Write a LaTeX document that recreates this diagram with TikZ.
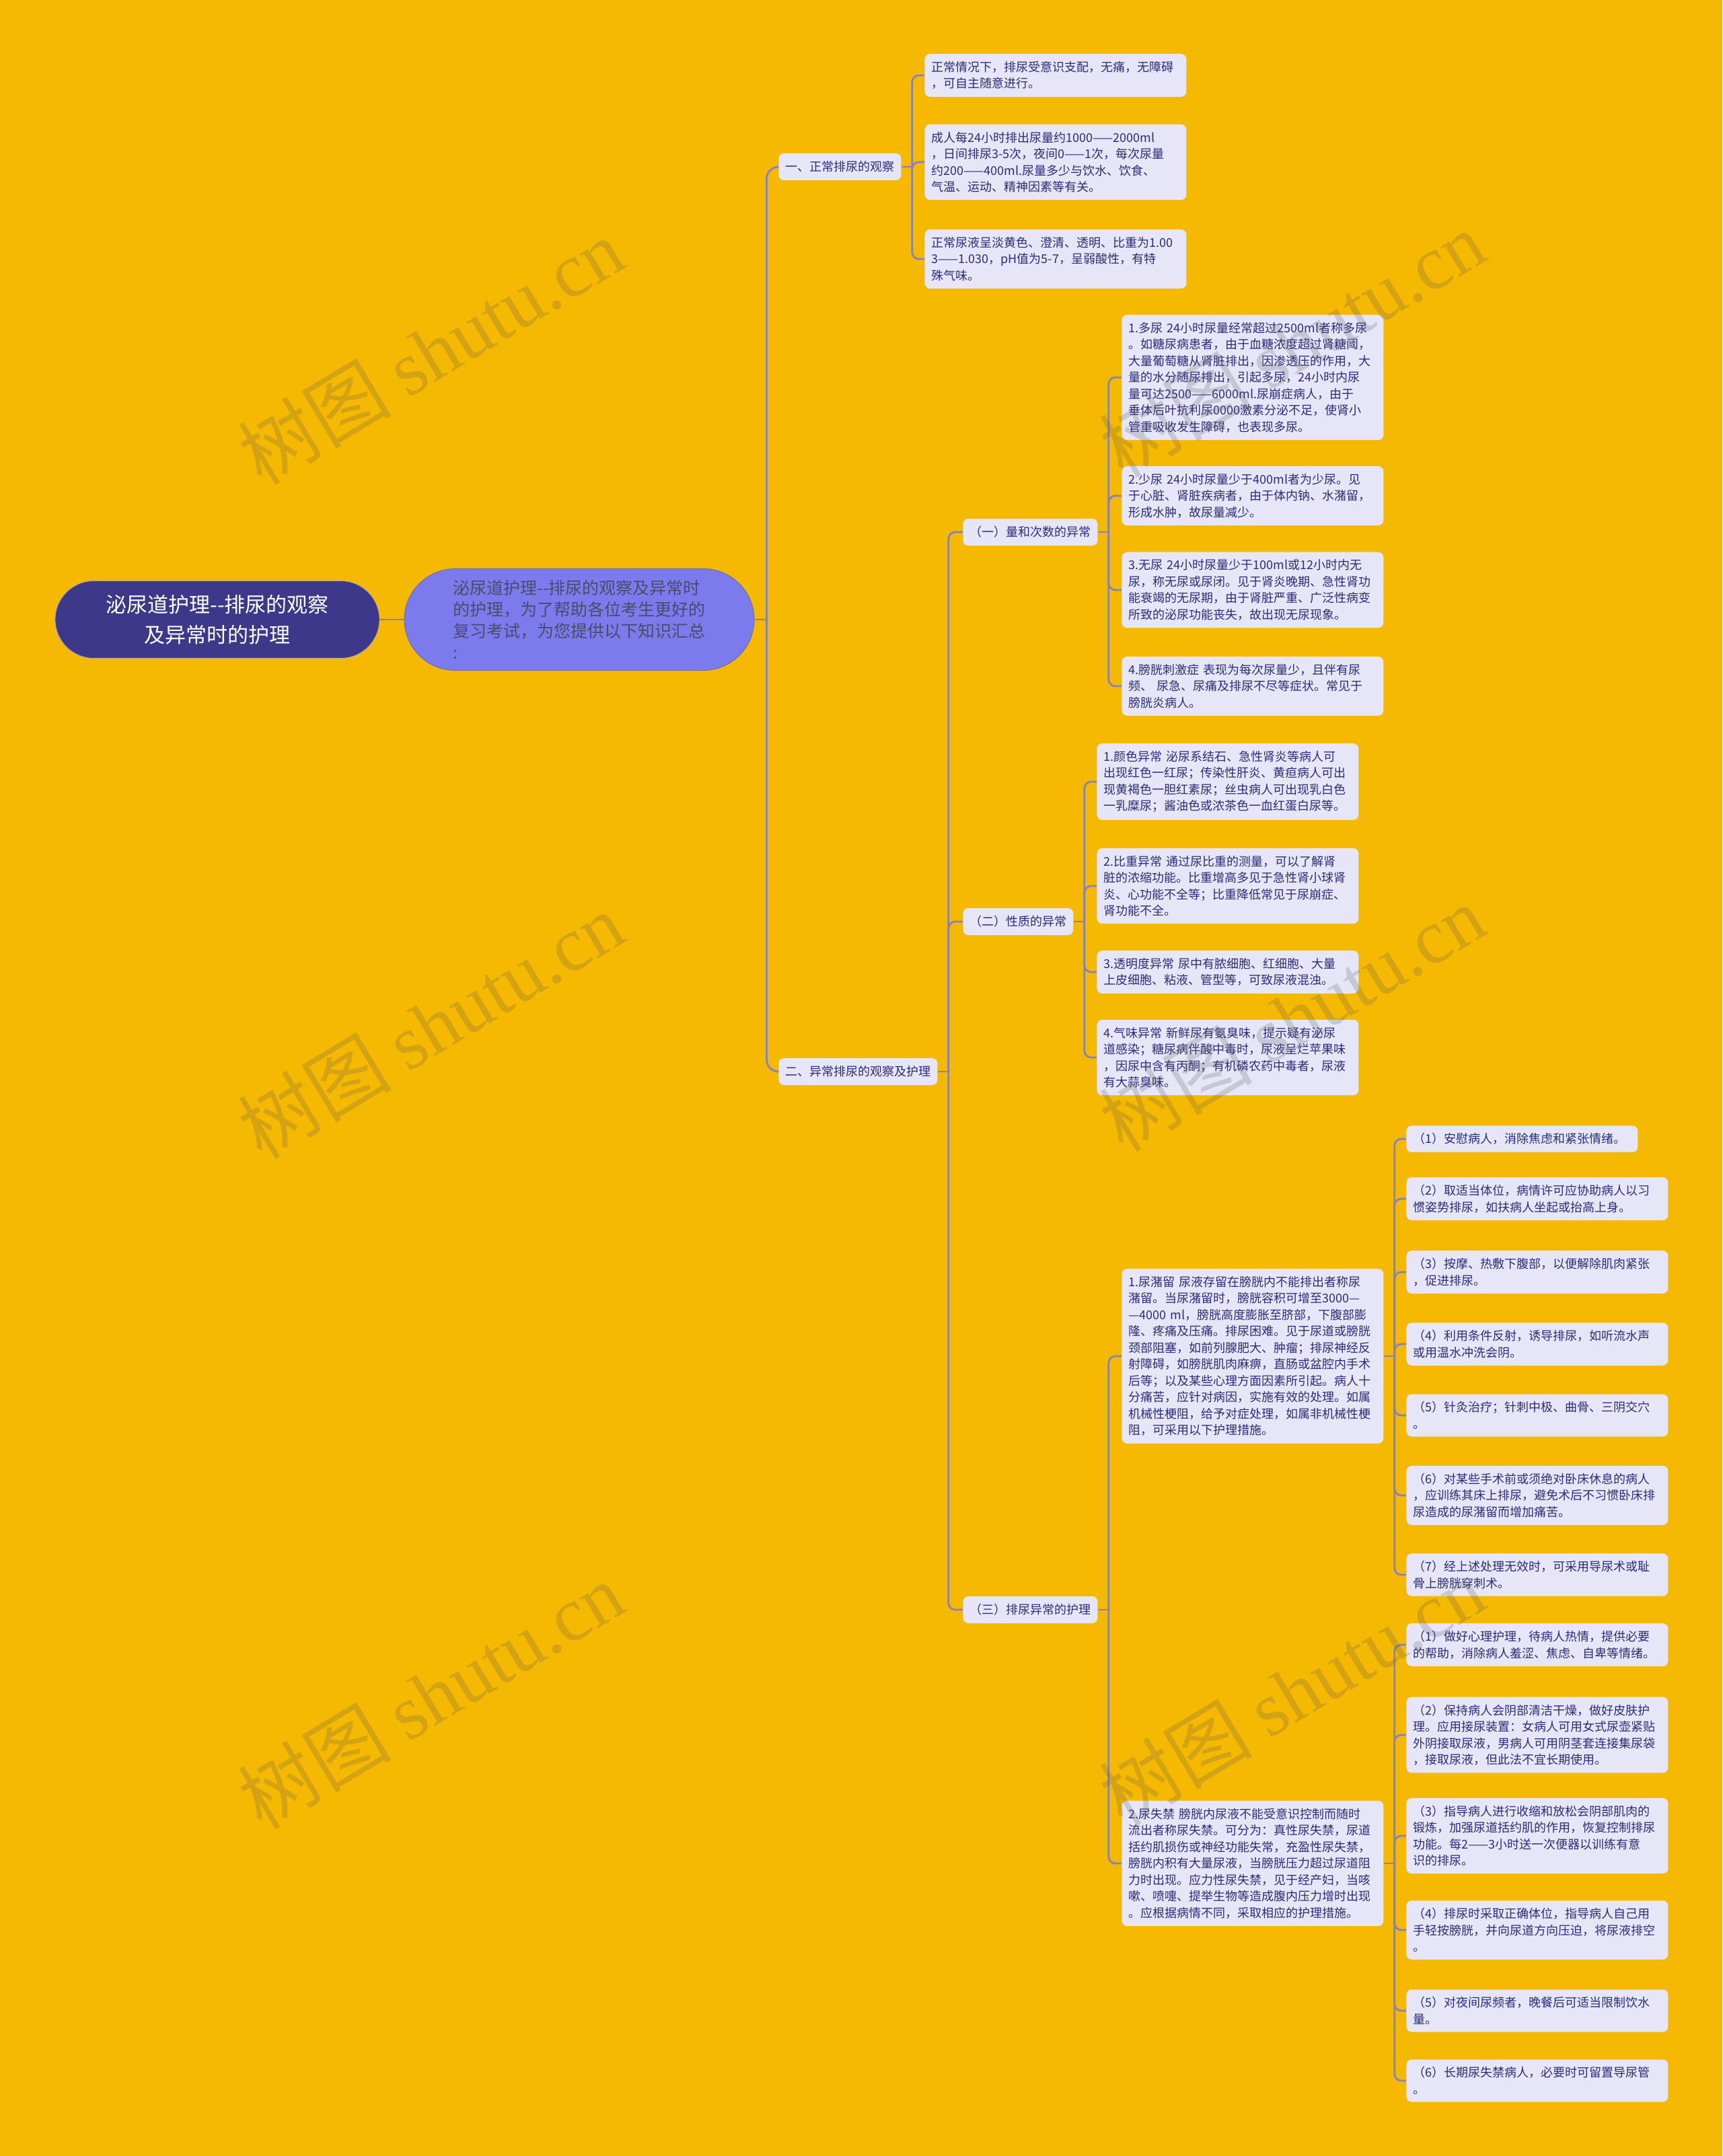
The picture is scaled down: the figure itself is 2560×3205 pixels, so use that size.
\documentclass[tikz,border=0pt]{standalone}
\usepackage{fontspec}
\setmainfont{Noto Sans CJK SC}
\newfontfamily\wmlatin{Liberation Serif}
\definecolor{map-bg}{HTML}{F6B901}
\definecolor{root-fill}{HTML}{3D3889}
\definecolor{hub-fill}{HTML}{7B7BEE}
\definecolor{hub-text}{HTML}{4B4B66}
\definecolor{leaf-fill}{HTML}{E6E6F8}
\definecolor{leaf-text}{HTML}{2B2B7B}
\definecolor{link-line}{HTML}{8383BF}

\begin{document}
\begin{tikzpicture}[x=0.5pt, y=-0.5pt,
  every node/.style={font=\fontsize{9}{12.25}\selectfont, text=leaf-text},
  leaf/.style={fill=leaf-fill, rounded corners=4pt, anchor=west, align=left,
    text width=184.5pt, inner xsep=5pt, inner ysep=5.5pt},
  tag/.style={fill=leaf-fill, rounded corners=4pt, anchor=west, inner xsep=5pt,
    minimum height=20pt},
  link/.style={draw=link-line, line width=1.4pt, rounded corners=5pt},
  wmark/.style={font=\fontsize{57}{57}\selectfont, text=black!66, text opacity=0.22,
    rotate=31}]
  \useasboundingbox (0,0) rectangle (2560,3205);
  \fill[map-bg] (0,0) rectangle (2560,3205);

  % root and summary
  \node[fill=root-fill, draw=leaf-fill!60!root-fill, text=white, rounded corners=28.75pt,
    minimum width=241pt, minimum height=57.5pt, align=center,
    font=\fontsize{15.5}{22.5}\selectfont]
    (root) at (323,921) {泌尿道护理-{}-排尿的观察\\及异常时的护理};
  \node[fill=hub-fill, draw=hub-fill!80!black, text=hub-text, rounded corners=37.75pt,
    minimum width=260pt, minimum height=75.5pt, align=left,
    font=\fontsize{12.5}{16}\selectfont]
    (hub) at (861,921) {泌尿道护理-{}-排尿的观察及异常时\\的护理，为了帮助各位考生更好的\\复习考试，为您提供以下知识汇总\\:};

  % first level
  \node[tag] (normal) at (1157,248) {一、正常排尿的观察};
  \node[tag] (abnormal) at (1157,1593) {二、异常排尿的观察及护理};

  \node[leaf] (n1) at (1374,112) {正常情况下，排尿受意识支配，无痛，无障碍\\，可自主随意进行。};
  \node[leaf] (n2) at (1374,241) {成人每24小时排出尿量约1000——2000ml\\，日间排尿3-5次，夜间0——1次，每次尿量\\约200——400ml.尿量多少与饮水、饮食、\\气温、运动、精神因素等有关。};
  \node[leaf] (n3) at (1374,385) {正常尿液呈淡黄色、澄清、透明、比重为1.00\\3——1.030，pH值为5-7，呈弱酸性，有特\\殊气味。};

  % second level
  \node[tag] (amount) at (1431,791) {（一）量和次数的异常};
  \node[tag] (quality) at (1431,1370) {（二）性质的异常};
  \node[tag] (care) at (1431,2393) {（三）排尿异常的护理};

  \node[leaf] (a1) at (1667,561) {1.多尿 24小时尿量经常超过2500ml者称多尿\\。如糖尿病患者，由于血糖浓度超过肾糖阈，\\大量葡萄糖从肾脏排出，因渗透压的作用，大\\量的水分随尿排出，引起多尿，24小时内尿\\量可达2500——6000ml.尿崩症病人，由于\\垂体后叶抗利尿0000激素分泌不足，使肾小\\管重吸收发生障碍，也表现多尿。};
  \node[leaf] (a2) at (1667,737) {2.少尿 24小时尿量少于400ml者为少尿。见\\于心脏、肾脏疾病者，由于体内钠、水潴留，\\形成水肿，故尿量减少。};
  \node[leaf] (a3) at (1667,877) {3.无尿 24小时尿量少于100ml或12小时内无\\尿，称无尿或尿闭。见于肾炎晚期、急性肾功\\能衰竭的无尿期，由于肾脏严重、广泛性病变\\所致的泌尿功能丧失，故出现无尿现象。};
  \node[leaf] (a4) at (1667,1020) {4.膀胱刺激症 表现为每次尿量少，且伴有尿\\频、 尿急、尿痛及排尿不尽等症状。常见于\\膀胱炎病人。};

  \node[leaf] (q1) at (1630,1162) {1.颜色异常 泌尿系结石、急性肾炎等病人可\\出现红色一红尿；传染性肝炎、黄疸病人可出\\现黄褐色一胆红素尿；丝虫病人可出现乳白色\\一乳糜尿；酱油色或浓茶色一血红蛋白尿等。};
  \node[leaf] (q2) at (1630,1317) {2.比重异常 通过尿比重的测量，可以了解肾\\脏的浓缩功能。比重增高多见于急性肾小球肾\\炎、心功能不全等；比重降低常见于尿崩症、\\肾功能不全。};
  \node[leaf] (q3) at (1630,1445) {3.透明度异常 尿中有脓细胞、红细胞、大量\\上皮细胞、粘液、管型等，可致尿液混浊。};
  \node[leaf] (q4) at (1630,1572) {4.气味异常 新鲜尿有氨臭味，提示疑有泌尿\\道感染；糖尿病伴酸中毒时，尿液呈烂苹果味\\，因尿中含有丙酮；有机磷农药中毒者，尿液\\有大蒜臭味。};

  \node[leaf] (c1) at (1667,2016) {1.尿潴留 尿液存留在膀胱内不能排出者称尿\\潴留。当尿潴留时，膀胱容积可增至3000—\\—4000 ml，膀胱高度膨胀至脐部，下腹部膨\\隆、疼痛及压痛。排尿困难。见于尿道或膀胱\\颈部阻塞，如前列腺肥大、肿瘤；排尿神经反\\射障碍，如膀胱肌肉麻痹，直肠或盆腔内手术\\后等；以及某些心理方面因素所引起。病人十\\分痛苦，应针对病因，实施有效的处理。如属\\机械性梗阻，给予对症处理，如属非机械性梗\\阻，可采用以下护理措施。};
  \node[leaf] (c2) at (1667,2770) {2.尿失禁 膀胱内尿液不能受意识控制而随时\\流出者称尿失禁。可分为：真性尿失禁，尿道\\括约肌损伤或神经功能失常，充盈性尿失禁，\\膀胱内积有大量尿液，当膀胱压力超过尿道阻\\力时出现。应力性尿失禁，见于经产妇，当咳\\嗽、喷嚏、提举生物等造成腹内压力增时出现\\。应根据病情不同，采取相应的护理措施。};

  % nursing steps
  \node[leaf, text width=162pt] (r1) at (2090,1693) {（1）安慰病人，消除焦虑和紧张情绪。};
  \node[leaf] (r2) at (2090,1782) {（2）取适当体位，病情许可应协助病人以习\\惯姿势排尿，如扶病人坐起或抬高上身。};
  \node[leaf] (r3) at (2090,1891) {（3）按摩、热敷下腹部，以便解除肌肉紧张\\，促进排尿。};
  \node[leaf] (r4) at (2090,1998) {（4）利用条件反射，诱导排尿，如听流水声\\或用温水冲洗会阴。};
  \node[leaf] (r5) at (2090,2104) {（5）针灸治疗；针刺中极、曲骨、三阴交穴\\。};
  \node[leaf] (r6) at (2090,2223) {（6）对某些手术前或须绝对卧床休息的病人\\，应训练其床上排尿，避免术后不习惯卧床排\\尿造成的尿潴留而增加痛苦。};
  \node[leaf] (r7) at (2090,2341) {（7）经上述处理无效时，可采用导尿术或耻\\骨上膀胱穿刺术。};

  \node[leaf] (i1) at (2090,2445) {（1）做好心理护理，待病人热情，提供必要\\的帮助，消除病人羞涩、焦虑、自卑等情绪。};
  \node[leaf] (i2) at (2090,2579) {（2）保持病人会阴部清洁干燥，做好皮肤护\\理。应用接尿装置：女病人可用女式尿壶紧贴\\外阴接取尿液，男病人可用阴茎套连接集尿袋\\，接取尿液，但此法不宜长期使用。};
  \node[leaf] (i3) at (2090,2729) {（3）指导病人进行收缩和放松会阴部肌肉的\\锻炼，加强尿道括约肌的作用，恢复控制排尿\\功能。每2——3小时送一次便器以训练有意\\识的排尿。};
  \node[leaf] (i4) at (2090,2869) {（4）排尿时采取正确体位，指导病人自己用\\手轻按膀胱，并向尿道方向压迫，将尿液排空\\。};
  \node[leaf] (i5) at (2090,2989) {（5）对夜间尿频者，晚餐后可适当限制饮水\\量。};
  \node[leaf] (i6) at (2090,3093) {（6）长期尿失禁病人，必要时可留置导尿管\\。};

  % connectors
  \draw[link] (root) -- (hub);
  \coordinate (j-hub) at ([xshift=9pt]hub.east);
  \draw[link] (hub.east) -- (j-hub);
  \foreach \k in {normal,abnormal}
    \draw[link, rounded corners=9pt] (j-hub) -- (j-hub |- \k.west) -- (\k.west);
  \foreach \p/\kids in {normal/{n1,n2,n3}, abnormal/{amount,quality,care},
      amount/{a1,a2,a3,a4}, quality/{q1,q2,q3,q4}, care/{c1,c2},
      c1/{r1,r2,r3,r4,r5,r6,r7}, c2/{i1,i2,i3,i4,i5,i6}} {
    \coordinate (j-\p) at ([xshift=8pt]\p.east);
    \draw[link] (\p.east) -- (j-\p);
    \foreach \k in \kids
      \draw[link] (j-\p) -- (j-\p |- \k.west) -- (\k.west);
  }

  % watermarks
  \foreach \wx/\wy [count=\i] in {640/522, 1920/511, 640/1524, 1920/1513, 640/2520, 1920/2515}
    \node[wmark] (wm\i) at (\wx,\wy) {树图 {\wmlatin shutu.cn}};
\end{tikzpicture}
\end{document}
